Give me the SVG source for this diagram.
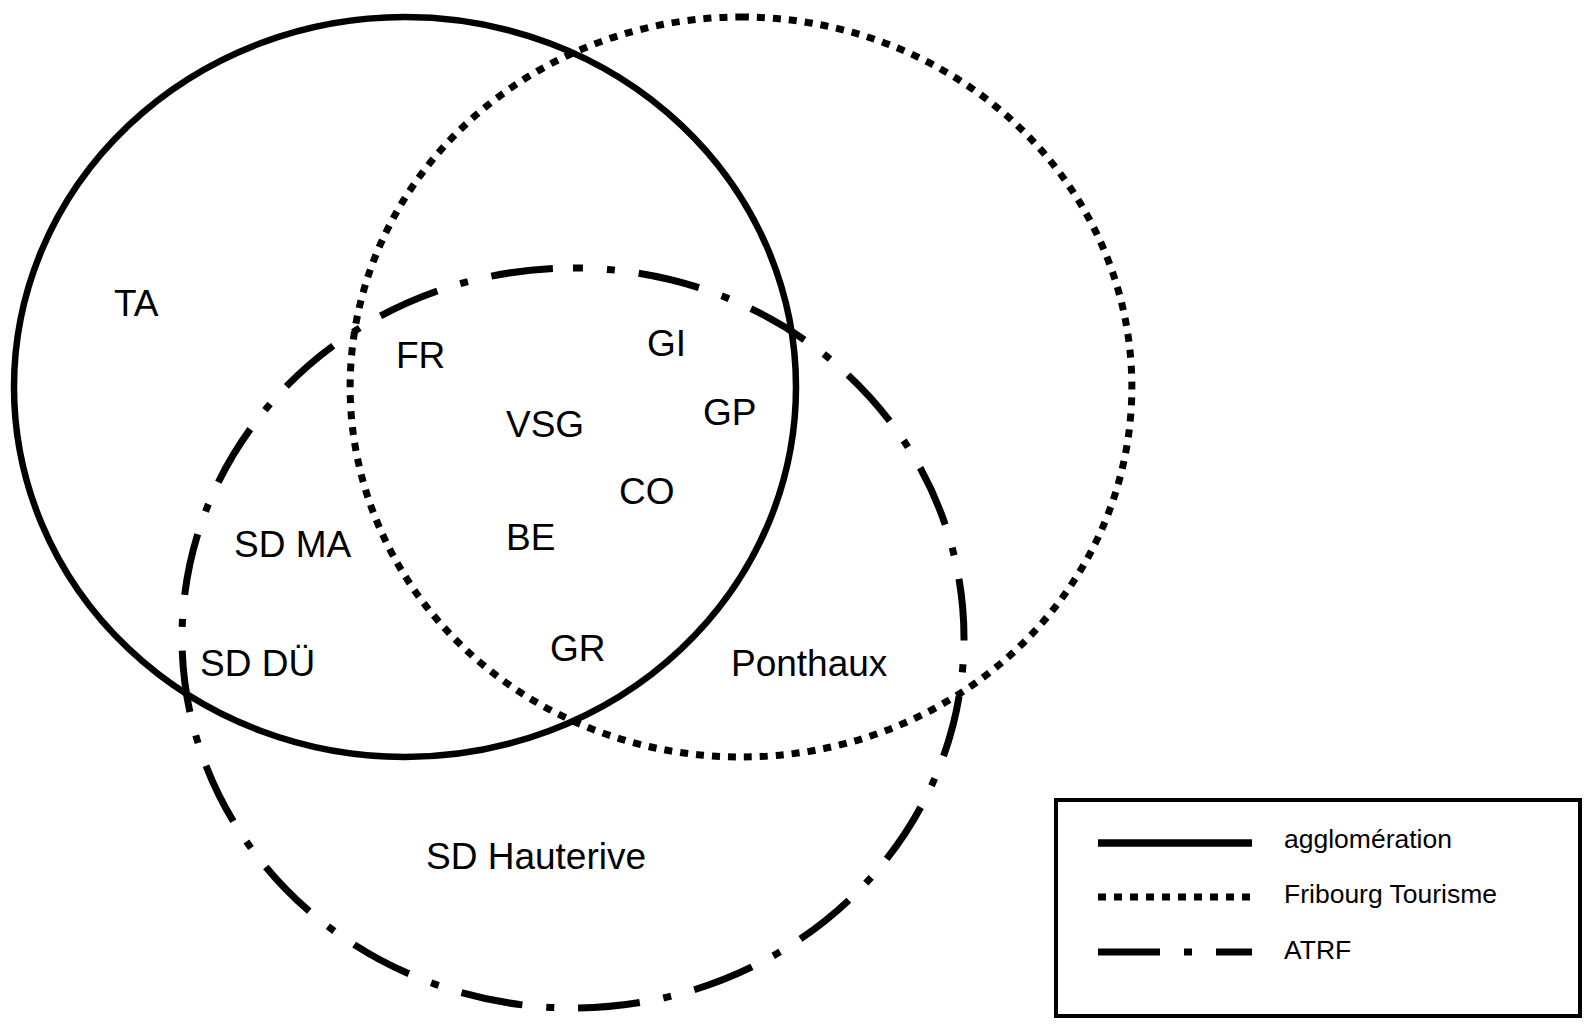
<svg xmlns="http://www.w3.org/2000/svg" width="1585" height="1025" viewBox="0 0 1585 1025">
<style>
  .set { fill: none; stroke: #000; stroke-linecap: butt; }
  .solid { stroke-width: 6.5; }
  .dotted { stroke-width: 7; stroke-dasharray: 8 8; }
  .dashdot { stroke-width: 7; stroke-dasharray: 62 24 8 24; }
  .lbl { font-family: "Liberation Sans", Arial, sans-serif; font-size: 37px; fill: #000; }
  .leg { font-family: "Liberation Sans", Arial, sans-serif; font-size: 26.5px; fill: #000; }
</style>
<rect width="1585" height="1025" fill="#fff"/>
<g id="agglomeration">
  <ellipse class="set solid" cx="405" cy="387" rx="391" ry="370"/>
</g>
<g id="fribourg-tourisme">
  <path class="set dotted" d="M741,17 A391,370 0 0 1 741,757 A391,370 0 0 1 741,17"/>
</g>
<g id="atrf">
  <path class="set dashdot" style="stroke-dashoffset:52" d="M573,268 A391,370 0 0 1 573,1008 A391,370 0 0 1 573,268"/>
</g>
<g id="labels">
  <text id="TA" class="lbl" x="114" y="316">TA</text>
  <text id="FR" class="lbl" x="396" y="368">FR</text>
  <text id="GI" class="lbl" x="647" y="356">GI</text>
  <text id="GP" class="lbl" x="703" y="425">GP</text>
  <text id="VSG" class="lbl" x="506" y="437">VSG</text>
  <text id="CO" class="lbl" x="619" y="504">CO</text>
  <text id="BE" class="lbl" x="506" y="550">BE</text>
  <text id="SDMA" class="lbl" x="234" y="557">SD MA</text>
  <text id="SDDU" class="lbl" x="200" y="676">SD DÜ</text>
  <text id="GR" class="lbl" x="550" y="661">GR</text>
  <text id="Ponthaux" class="lbl" x="731" y="676">Ponthaux</text>
  <text id="SDHauterive" class="lbl" x="426" y="869">SD Hauterive</text>
</g>
<g id="legend">
  <rect x="1056" y="800" width="524" height="216" fill="#fff" stroke="#000" stroke-width="4"/>
  <line class="set" x1="1098" y1="843" x2="1252" y2="843" stroke-width="7.5"/>
  <line class="set dotted" x1="1098" y1="897" x2="1252" y2="897"/>
  <line class="set dashdot" x1="1098" y1="952" x2="1252" y2="952"/>
  <text class="leg" x="1284" y="848">agglomération</text>
  <text class="leg" x="1284" y="903">Fribourg Tourisme</text>
  <text class="leg" x="1284" y="959">ATRF</text>
</g>
</svg>
